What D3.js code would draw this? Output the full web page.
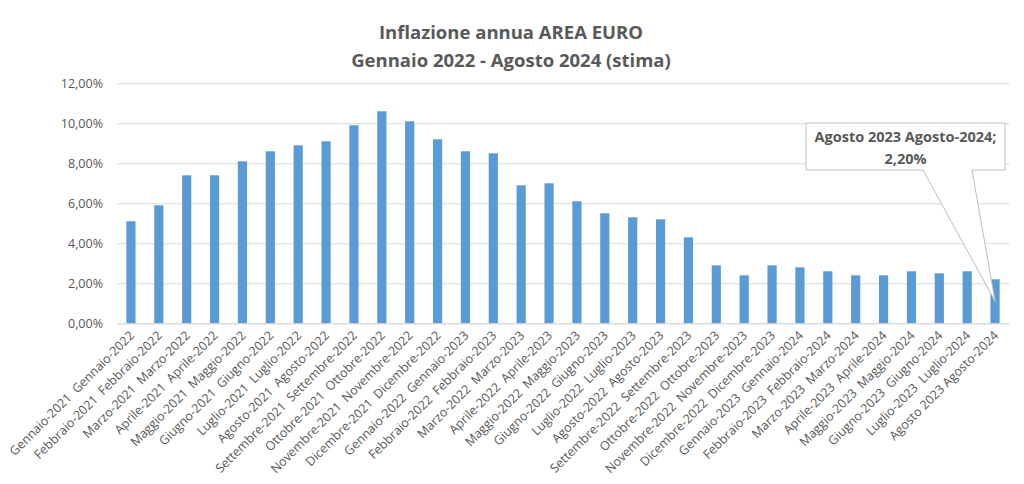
<!DOCTYPE html>
<html><head><meta charset="utf-8">
<script src="https://cdn.jsdelivr.net/npm/d3@7"></script>
<style>html,body{margin:0;padding:0;background:#fff;}svg{display:block;}</style>
</head><body>
<svg id="chart" width="1024" height="484"></svg>
<script>
const titleLines = ["Inflazione annua AREA EURO", "Gennaio 2022 - Agosto 2024 (stima)"];
const categories = [
 "Gennaio-2021  Gennaio-2022","Febbraio-2021  Febbraio-2022","Marzo-2021  Marzo-2022","Aprile-2021  Aprile-2022",
 "Maggio-2021  Maggio-2022","Giugno-2021  Giugno-2022","Luglio-2021  Luglio-2022","Agosto-2021  Agosto-2022",
 "Settembre-2021  Settembre-2022","Ottobre-2021  Ottobre-2022","Novembre-2021  Novembre-2022","Dicembre-2021  Dicembre-2022",
 "Gennaio-2022  Gennaio-2023","Febbraio-2022  Febbraio-2023","Marzo-2022  Marzo-2023","Aprile-2022  Aprile-2023",
 "Maggio-2022  Maggio-2023","Giugno-2022  Giugno-2023","Luglio-2022  Luglio-2023","Agosto-2022  Agosto-2023",
 "Settembre-2022  Settembre-2023","Ottobre-2022  Ottobre-2023","Novembre-2022  Novembre-2023","Dicembre-2022  Dicembre-2023",
 "Gennaio-2023  Gennaio-2024","Febbraio-2023  Febbraio-2024","Marzo-2023  Marzo-2024","Aprile-2023  Aprile-2024",
 "Maggio-2023  Maggio-2024","Giugno-2023  Giugno-2024","Luglio-2023  Luglio-2024","Agosto 2023 Agosto-2024"
];
const values = [5.1,5.9,7.4,7.4,8.1,8.6,8.9,9.1,9.9,10.6,10.1,9.2,8.6,8.5,6.9,7.0,6.1,5.5,5.3,5.2,4.3,2.9,2.4,2.9,2.8,2.6,2.4,2.4,2.6,2.5,2.6,2.2];
const yTicks = [0,2,4,6,8,10,12];
const calloutLines = ["Agosto 2023 Agosto-2024;", "2,20%"];

(function(){
const svg = d3.select("#chart");
const font = "'Open Sans', 'Noto Sans', sans-serif";
const grey = "#595959";
const pLeft = 117, pRight = 1009, pTop = 83.3, pBottom = 323.3;

const x = d3.scaleBand().domain(categories).range([pLeft, pRight]).paddingInner(0.67).paddingOuter(0.335);
const y = d3.scaleLinear().domain([0, 12]).range([pBottom, pTop]);
const fmt = v => d3.format(".2f")(v).replace(".", ",") + "%";

// title
svg.append("g").selectAll("text").data(titleLines).join("text")
  .attr("x", 511).attr("y", (d,i) => 39 + i*27.5)
  .attr("text-anchor", "middle").attr("font-family", font).attr("font-weight", "bold")
  .attr("font-size", 18.5).attr("fill", grey).text(d => d);

// gridlines + y axis
const yAxis = d3.axisLeft(y).tickValues(yTicks).tickFormat(fmt).tickSize(-(pRight-pLeft)).tickPadding(14);
const gy = svg.append("g").attr("transform", `translate(${pLeft},0)`).call(yAxis);
gy.select(".domain").remove();
gy.selectAll(".tick line").attr("stroke", "#d9d9d9").attr("stroke-width", 1);
gy.selectAll(".tick text").attr("font-family", font).attr("font-size", 12.5).attr("fill", grey);

// bars
svg.append("g").selectAll("rect").data(values).join("rect")
  .attr("x", (d,i) => x(categories[i])).attr("width", x.bandwidth())
  .attr("y", d => y(d)).attr("height", d => y(0) - y(d))
  .attr("fill", "#5b9bd5");

// x axis
const xAxis = d3.axisBottom(x).tickSize(0).tickPadding(0);
const gx = svg.append("g").attr("transform", `translate(0,${pBottom})`).call(xAxis);
gx.select(".domain").attr("stroke", "#d9d9d9");
gx.selectAll(".tick text")
  .attr("font-family", font).attr("font-size", 12.5).attr("fill", grey)
  .attr("text-anchor", "end").attr("dy", 0).attr("y", 0)
  .attr("transform", "translate(4,13) rotate(-45)")
  .style("white-space", "pre");

// callout
const last = values.length - 1;
const px = x(categories[last]) + x.bandwidth()/2, py = y(values[last]) + 22;
const bx0 = 806, bx1 = 1005, by0 = 123, by1 = 170;
const path = d3.path();
path.moveTo(bx0, by0); path.lineTo(bx1, by0); path.lineTo(bx1, by1);
path.lineTo(972, by1); path.lineTo(px, py); path.lineTo(923, by1);
path.lineTo(bx0, by1); path.closePath();
svg.append("path").attr("d", path.toString()).attr("fill", "#fff").attr("stroke", "#bfbfbf").attr("stroke-width", 1);
svg.append("g").selectAll("text").data(calloutLines).join("text")
  .attr("x", (bx0+bx1)/2).attr("y", (d,i) => 142 + i*22)
  .attr("text-anchor", "middle").attr("font-family", font).attr("font-weight", "bold")
  .attr("font-size", 14.5).attr("fill", grey).text(d => d);
})();
</script>
</body></html>
